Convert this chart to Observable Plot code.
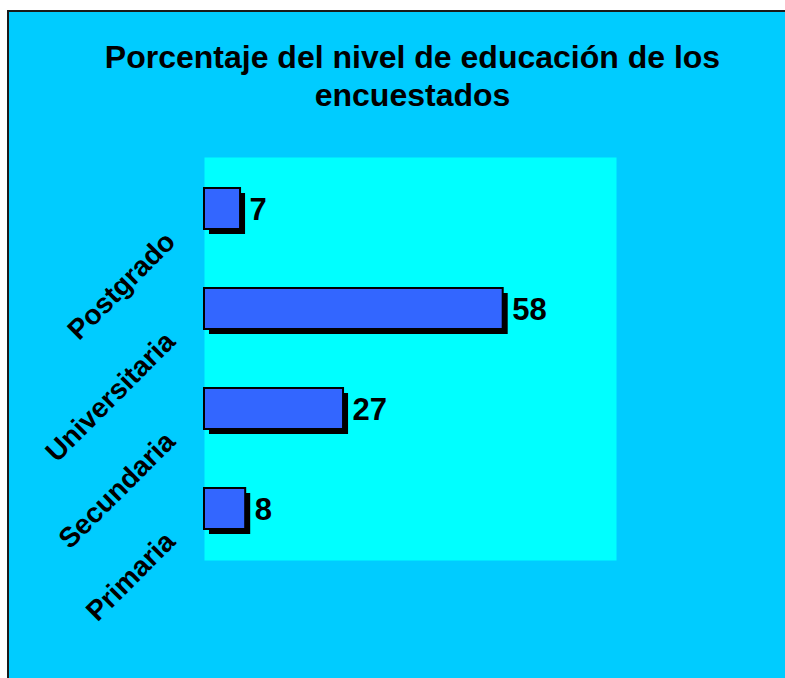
<!DOCTYPE html>
<html>
<head>
<meta charset="utf-8">
<script src="https://cdn.jsdelivr.net/npm/d3@7"></script>
<script src="https://cdn.jsdelivr.net/npm/@observablehq/plot@0.6"></script>
<style>
  html, body { margin: 0; padding: 0; overflow: hidden; background: #ffffff; width: 785px; height: 678px; }
  #bg { position: absolute; left: 7px; top: 10px; width: 900px; height: 800px; background: #00CCFF; border-left: 2px solid #1a1a1a; border-top: 2px solid #1a1a1a; }
  #title { position: absolute; left: 0; top: 38px; width: 825px; text-align: center; font-family: "Liberation Sans", Arial, sans-serif; font-weight: bold; font-size: 32px; line-height: 38px; color: #000; }
  #chart { position: absolute; left: 0; top: 0; }
</style>
</head>
<body>
<div id="bg"></div>
<div id="title">Porcentaje del nivel de educación de los<br>encuestados</div>
<div id="chart"></div>
<script>
const categories = ["Postgrado", "Universitaria", "Secundaria", "Primaria"];
const values = [7, 58, 27, 8];
const xDomain = [0, 80];

const data = categories.map((c, i) => ({cat: c, value: values[i]}));

const chart = Plot.plot({
  width: 785,
  height: 678,
  marginLeft: 204,
  marginRight: 169,
  marginTop: 157,
  marginBottom: 118,
  style: {background: "transparent", fontFamily: "Liberation Sans, Arial, sans-serif", overflow: "visible"},
  x: {domain: xDomain, axis: null},
  y: {domain: categories, axis: null, paddingInner: 0.593, paddingOuter: 0.2965},
  marks: [
    Plot.frame({fill: "#00FFFF", stroke: "none"}),
    Plot.barX(data, {x: "value", y: "cat", fill: "#000000", dx: 5, dy: 5}),
    Plot.barX(data, {x: "value", y: "cat", fill: "#3366FF", stroke: "#000000", strokeWidth: 2}),
    Plot.text(data, {x: "value", y: "cat", text: d => String(d.value), textAnchor: "start", dx: 9, dy: 1, fontSize: 31, fontWeight: "bold", fill: "#000000"}),
    Plot.text(data, {x: () => 0, y: "cat", text: "cat", textAnchor: "end", rotate: -45, dx: -34, dy: 28, fontSize: 28, fontWeight: "bold", fill: "#000000"})
  ]
});
document.getElementById("chart").appendChild(chart);
</script>
</body>
</html>
